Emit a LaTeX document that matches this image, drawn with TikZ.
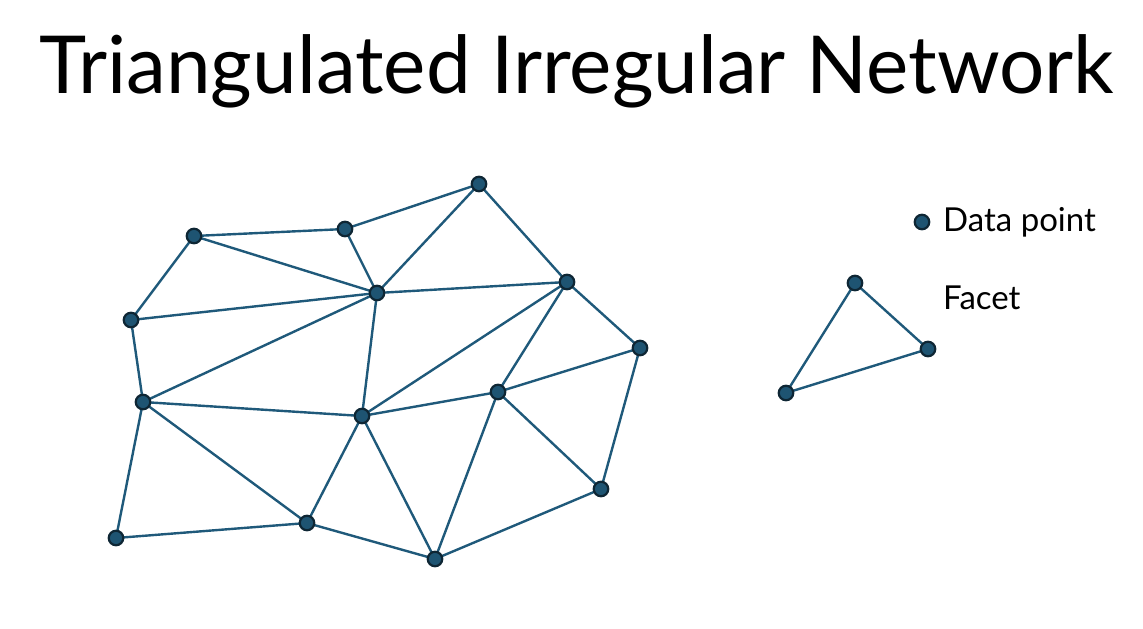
\documentclass[tikz,border=0pt]{standalone}
\usepackage{fontspec}
\setmainfont{Lato}
\definecolor{tinline}{RGB}{31,89,122}
\definecolor{tinfill}{RGB}{30,84,114}
\definecolor{tinrim}{RGB}{14,38,52}
\tikzset{
  pt/.style={circle,fill=tinfill,draw=tinrim,line width=2.2pt,inner sep=0pt,minimum size=14.5pt},
  facet/.style={draw=tinline,line width=2.4pt},
  lbl/.style={anchor=west,inner sep=0pt,font=\fontsize{33}{36}\selectfont}
}
\begin{document}
\begin{tikzpicture}[x=1pt,y=-1pt]
 \useasboundingbox (0,0) rectangle (1143,629);
 \node[font=\fontsize{80}{86}\selectfont,inner sep=0pt] (title) at (577,71) {Triangulated Irregular Network};
 % data points
 \foreach \n/\x/\y in {a/479/184, b/194/236, c/345/229, d/377/293, e/567/282,
   f/131/320, g/640/348, h/143/402, i/362/416, j/498/392, k/601/489,
   l/116/538, m/307/523, n/435/559}
   \coordinate (\n) at (\x,\y);
 % facets
 \foreach \u/\v in {b/c, c/a, a/e, e/g, g/k, k/n, n/m, m/l, l/h, h/f, f/b,
   b/d, c/d, a/d, d/e, f/d, h/d, d/i, h/i, i/e, e/j, j/g, i/j, j/k, j/n,
   i/n, i/m, h/m}
   \draw[facet] (\u) -- (\v);
 \foreach \n in {a,b,c,d,e,f,g,h,i,j,k,l,m,n}
   \node[pt] (p\n) at (\n) {};
 %
 % legend
 \node[pt] (keypt) at (922,222) {};
 \node[lbl] (keyptlbl) at (943,222) {Data point};
 \coordinate (ta) at (855,283);
 \coordinate (tb) at (928,349);
 \coordinate (tc) at (786,393);
 \draw[facet] (ta) -- (tb) -- (tc) -- cycle;
 \node[pt] (pta) at (ta) {};
 \node[pt] (ptb) at (tb) {};
 \node[pt] (ptc) at (tc) {};
 \node[lbl] (facetlbl) at (943,298) {Facet};
\end{tikzpicture}
\end{document}
